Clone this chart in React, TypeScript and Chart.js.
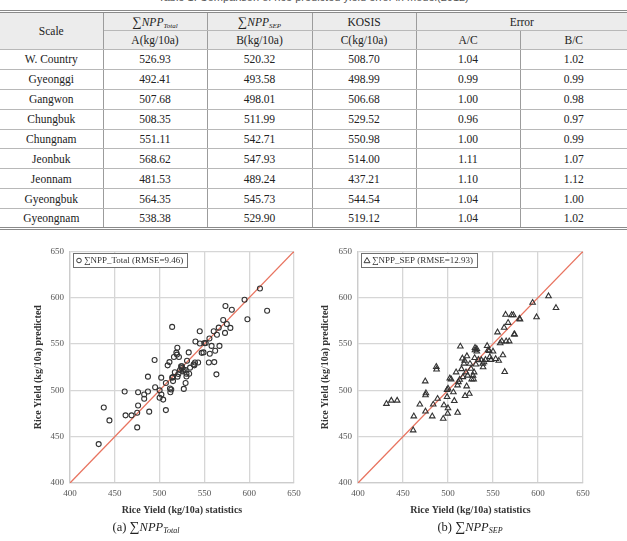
import React, { useEffect, useRef } from 'react';
import { Chart, registerables } from 'chart.js';

Chart.register(...registerables);

const SERIF = '"Liberation Serif", "Times New Roman", serif';

// ---------- table data ----------
const tableTitle = 'Table 1. Comparison of rice predicted yield error in model(2012)';
const regions = ['W. Country', 'Gyeonggi', 'Gangwon', 'Chungbuk', 'Chungnam', 'Jeonbuk', 'Jeonnam', 'Gyeongbuk', 'Gyeongnam'];
const colA = [526.93, 492.41, 507.68, 508.35, 551.11, 568.62, 481.53, 564.35, 538.38];
const colB = [520.32, 493.58, 498.01, 511.99, 542.71, 547.93, 489.24, 545.73, 529.9];
const colC = [508.7, 498.99, 506.68, 529.52, 550.98, 514.0, 437.21, 544.54, 519.12];
const colAC = [1.04, 0.99, 1.0, 0.96, 1.0, 1.11, 1.1, 1.04, 1.04];
const colBC = [1.02, 0.99, 0.98, 0.97, 0.99, 1.07, 1.12, 1.0, 1.02];

// ---------- chart data ----------
const axisTicks = [400, 450, 500, 550, 600, 650];
const oneToOne = [400, 650];

const totalX = [432, 437.7, 444, 461, 462, 468.7, 475, 476, 476, 475, 482.8, 482.8, 487, 487, 488.4, 494.4, 495, 500, 500, 501.8, 502, 504, 507, 507, 509, 511, 511.6, 512, 513, 514, 514, 515, 515, 516, 517, 518.7, 519.8, 519.4, 520, 521, 521.6, 522.8, 524, 524.6, 525, 526, 527, 527, 529, 529, 530, 530, 530.6, 532.5, 533, 534, 538, 538.8, 539.5, 540, 543, 544.8, 545, 547, 549, 550, 551.5, 555, 555.6, 556, 558, 560.4, 561, 562, 563.4, 564, 566, 566.8, 571, 573, 573.5, 575, 579, 580.6, 594.8, 598, 612, 620];
const totalY = [442, 481.5, 467.6, 498.7, 473, 473, 475.8, 498, 483.7, 460, 491, 495.5, 498.7, 514.8, 477, 532.7, 503.4, 500, 492, 513.7, 495.5, 490, 508, 478.7, 527, 530.5, 502, 498, 501, 513.7, 568.5, 510, 514.4, 536, 519.6, 540.7, 546, 538.6, 514.8, 517.7, 536, 522, 526, 524, 526, 520.5, 522, 501.6, 522, 508, 515, 518, 532, 541, 518, 524.5, 528, 527, 530, 552.7, 530, 563.8, 550.6, 540.5, 541, 551, 551, 530, 556, 539.5, 548, 563.8, 530.5, 542.7, 517.3, 560, 567.7, 548, 576, 562, 591, 571.7, 567.4, 587, 597.8, 576.7, 610, 586];

const sepX = [431.6, 437, 443.5, 461.3, 462, 468.7, 474.7, 475.5, 475, 475, 482.5, 483.6, 487, 487.3, 488.4, 494.7, 495.5, 499, 499, 500, 500, 499.6, 502, 503.5, 506, 507, 509, 510.6, 511.6, 510.7, 513, 513.7, 515, 516, 516.5, 517.8, 518.5, 519, 520, 520.7, 521, 521.8, 523.7, 524.4, 525.5, 526.3, 527.8, 528.5, 529, 529.6, 530, 530, 531, 532, 532, 533.7, 537, 538.6, 539, 540, 541.6, 543.5, 544.6, 545.7, 546.4, 547.8, 550, 553, 555, 556.4, 558, 559.8, 561, 563, 562.4, 564, 564.6, 566.8, 568, 570.7, 572.6, 573.5, 574, 579.4, 580, 594, 598.4, 611.7, 620];
const sepY = [485.5, 489, 489, 456.9, 472, 484.8, 509.8, 497, 494.8, 477.3, 472, 484.8, 525.5, 522.7, 491, 469.4, 484, 500.5, 493, 502, 480.8, 475, 513, 512, 498, 488.7, 519.5, 505.5, 509, 476, 511.6, 547.4, 523, 534.5, 514.4, 529, 532, 494, 519.5, 504.4, 537, 516, 496.4, 528.8, 523.4, 512, 516, 512, 519.5, 535, 546, 543.4, 528, 544.8, 542, 533, 532.7, 529, 525, 530.5, 533, 548, 543.4, 542.7, 536, 533, 542, 534, 562.7, 532, 551, 553, 538, 520, 567.7, 581.7, 553, 573, 553, 581.3, 581.3, 560.5, 560.5, 577.4, 576.7, 594.6, 579, 601.7, 589];

const legendBoxPlugin = {
  id: 'legendBox',
  afterDatasetsDraw(chart: any) {
    const { ctx, chartArea } = chart;
    const ds = chart.data.datasets[0];
    const text: string = ds.label;
    ctx.save();
    ctx.font = `9px ${SERIF}`;
    const tw = ctx.measureText(text).width;
    const x0 = Math.round(chartArea.left) + 3;
    const y0 = Math.round(chartArea.top) + 2;
    const w = Math.round(tw) + 15;
    const h = 14;
    ctx.fillStyle = '#ffffff';
    ctx.fillRect(x0, y0, w, h);
    ctx.strokeStyle = '#707070';
    ctx.lineWidth = 1;
    ctx.strokeRect(x0 + 0.5, y0 + 0.5, w, h);
    const mx = x0 + 6;
    const my = y0 + h / 2 + 0.5;
    ctx.strokeStyle = '#3a3a3a';
    ctx.beginPath();
    if (ds.pointStyle === 'triangle') {
      ctx.moveTo(mx, my - 3);
      ctx.lineTo(mx + 3, my + 2.2);
      ctx.lineTo(mx - 3, my + 2.2);
      ctx.closePath();
    } else {
      ctx.arc(mx, my, 2.3, 0, Math.PI * 2);
    }
    ctx.stroke();
    ctx.fillStyle = '#333';
    ctx.textBaseline = 'middle';
    ctx.fillText(text, x0 + 11, y0 + h / 2 + 1);
    ctx.restore();
  },
};

type ScatterProps = {
  xs: number[];
  ys: number[];
  label: string;
  pointStyle: string;
  radius: number;
  left: number;
  width: number;
  padLeft: number;
  padRight: number;
  yWidth: number;
};

function ScatterChart(p: ScatterProps) {
  const ref = useRef<HTMLCanvasElement>(null);
  useEffect(() => {
    if (!ref.current) return;
    const tickFont = { family: SERIF, size: 9 };
    const titleFont = { family: SERIF, size: 10, weight: 'bold' as const };
    const fixTicks = (s: any) => {
      s.ticks = axisTicks.map((v) => ({ value: v }));
    };
    const chart = new Chart(ref.current, {
      type: 'scatter',
      data: {
        datasets: [
          {
            label: p.label,
            data: p.xs.map((x, i) => ({ x, y: p.ys[i] })),
            pointStyle: p.pointStyle as any,
            pointRadius: p.radius,
            borderColor: '#333333',
            backgroundColor: 'rgba(0,0,0,0)',
            borderWidth: 1.1,
            order: 1,
          },
          {
            label: '1:1',
            data: oneToOne.map((v) => ({ x: v, y: v })),
            showLine: true,
            borderColor: '#e8735f',
            borderWidth: 1.3,
            pointRadius: 0,
            order: 2,
          },
        ],
      },
      options: {
        responsive: false,
        animation: false,
        devicePixelRatio: 1,
        layout: { padding: { left: p.padLeft, right: p.padRight, top: 10, bottom: 0 } },
        plugins: { legend: { display: false }, tooltip: { enabled: false } },
        scales: {
          x: {
            type: 'linear',
            min: 400,
            max: 650,
            afterBuildTicks: fixTicks,
            afterFit: (s: any) => {
              s.height = 37;
            },
            grid: { color: '#d6d6d6', lineWidth: 1.3, drawTicks: false },
            border: { color: '#cccccc', width: 1.3 },
            ticks: { padding: 5, color: '#555', font: tickFont },
            title: { display: true, text: 'Rice Yield (kg/10a) statistics', color: '#333', font: titleFont },
          },
          y: {
            type: 'linear',
            min: 400,
            max: 650,
            afterBuildTicks: fixTicks,
            afterFit: (s: any) => {
              s.width = p.yWidth;
            },
            grid: { color: '#d6d6d6', lineWidth: 1.3, drawTicks: false },
            border: { color: '#cccccc', width: 1.3 },
            ticks: { padding: 6, color: '#555', font: tickFont },
            title: { display: true, text: 'Rice Yield (kg/10a) predicted', color: '#333', font: titleFont },
          },
        },
      },
      plugins: [legendBoxPlugin],
    });
    return () => chart.destroy();
  }, []);
  return (
    <canvas
      ref={ref}
      width={p.width}
      height={280}
      style={{ position: 'absolute', left: p.left, top: 240, width: p.width, height: 280, display: 'block' }}
    />
  );
}

const colWidths = [103, 104, 105, 104, 104, 107];
const vLine = '1px solid #9c9c9c';
const hLine = '1px solid #b8b8b8';

function cell(extra: React.CSSProperties = {}): React.CSSProperties {
  return {
    borderRight: vLine,
    borderBottom: hLine,
    textAlign: 'center',
    verticalAlign: 'middle',
    padding: 0,
    whiteSpace: 'nowrap',
    ...extra,
  };
}

function NppLabel({ sub }: { sub: string }) {
  return (
    <span>
      <span style={{ fontSize: 13 }}>∑</span>
      <i>NPP</i>
      <i style={{ fontSize: 7, verticalAlign: -2 }}>{sub}</i>
    </span>
  );
}

function DataTable() {
  const headBg = '#ececec';
  const last = { borderRight: 'none' };
  return (
    <table
      style={{
        position: 'absolute',
        left: 0,
        top: 10,
        width: 627,
        borderCollapse: 'collapse',
        tableLayout: 'fixed',
        fontFamily: SERIF,
        fontSize: 11.5,
        color: '#222',
        borderTop: '3px double #8a8a8a',
        borderBottom: '3px double #8a8a8a',
      }}
    >
      <colgroup>
        {colWidths.map((w, i) => (
          <col key={i} style={{ width: w }} />
        ))}
      </colgroup>
      <tbody>
        <tr style={{ height: 19, background: headBg }}>
          <td rowSpan={2} style={cell()}>Scale</td>
          <td style={cell()}><NppLabel sub="Total" /></td>
          <td style={cell()}><NppLabel sub="SEP" /></td>
          <td style={cell()}>KOSIS</td>
          <td colSpan={2} style={cell(last)}>Error</td>
        </tr>
        <tr style={{ height: 19, background: headBg }}>
          <td style={cell()}>A(kg/10a)</td>
          <td style={cell()}>B(kg/10a)</td>
          <td style={cell()}>C(kg/10a)</td>
          <td style={cell()}>A/C</td>
          <td style={cell(last)}>B/C</td>
        </tr>
        {regions.map((r, i) => (
          <tr key={r} style={{ height: 19.9 }}>
            <td style={cell()}>{r}</td>
            <td style={cell()}>{colA[i].toFixed(2)}</td>
            <td style={cell()}>{colB[i].toFixed(2)}</td>
            <td style={cell()}>{colC[i].toFixed(2)}</td>
            <td style={cell()}>{colAC[i].toFixed(2)}</td>
            <td style={cell(last)}>{colBC[i].toFixed(2)}</td>
          </tr>
        ))}
      </tbody>
    </table>
  );
}

function Caption({ tag, sub, center }: { tag: string; sub: string; center: number }) {
  return (
    <div
      style={{
        position: 'absolute',
        left: center - 80,
        width: 160,
        top: 519,
        textAlign: 'center',
        fontFamily: SERIF,
        fontSize: 12.5,
        color: '#222',
        whiteSpace: 'nowrap',
      }}
    >
      {tag} <span style={{ fontSize: 14 }}>∑</span>
      <i>NPP</i>
      <i style={{ fontSize: 8, verticalAlign: -2 }}>{sub}</i>
    </div>
  );
}

export default function App() {
  return (
    <div
      style={{
        position: 'absolute',
        left: 0,
        top: 0,
        width: 627,
        height: 541,
        background: '#fff',
        overflow: 'hidden',
      }}
    >
      <div
        style={{
          position: 'absolute',
          left: 0,
          top: -9,
          width: 627,
          textAlign: 'center',
          fontFamily: '"Liberation Sans", Arial, sans-serif',
          fontSize: 11,
          color: '#555',
        }}
      >
        {tableTitle}
      </div>
      <DataTable />
      <ScatterChart
        xs={totalX}
        ys={totalY}
        label="∑NPP_Total (RMSE=9.46)"
        pointStyle="circle"
        radius={2.5}
        left={0}
        width={310}
        padLeft={28}
        padRight={16}
        yWidth={42}
      />
      <ScatterChart
        xs={sepX}
        ys={sepY}
        label="∑NPP_SEP (RMSE=12.93)"
        pointStyle="triangle"
        radius={3.2}
        left={310}
        width={290}
        padLeft={5}
        padRight={17}
        yWidth={43}
      />
      <Caption tag="(a)" sub="Total" center={146} />
      <Caption tag="(b)" sub="SEP" center={470} />
    </div>
  );
}
